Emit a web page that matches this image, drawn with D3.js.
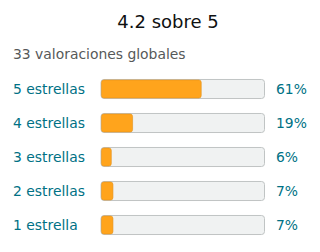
<!DOCTYPE html>
<html>
<head>
<meta charset="utf-8">
<script src="https://cdn.jsdelivr.net/npm/d3@7"></script>
<style>
  body { margin: 0; background: #fff; }
  svg { display: block; font-family: "DejaVu Sans", sans-serif; }
</style>
</head>
<body>
<svg width="320" height="252"></svg>
<script>
// rating data
var labels = ["5 estrellas", "4 estrellas", "3 estrellas", "2 estrellas", "1 estrella"];
var percents = [61, 19, 6, 7, 7];
var title = "4.2 sobre 5";
var subtitle = "33 valoraciones globales";

var svg = d3.select("svg");

var barLeft = 101, barRight = 264.5;

var x = d3.scaleLinear().domain([0, 100]).range([barLeft, barRight]);
var y = d3.scaleBand().domain(labels).range([72, 242]).paddingInner(0.44).paddingOuter(0.22);

svg.append("text")
    .attr("x", 168)
    .attr("y", 28)
    .attr("text-anchor", "middle")
    .attr("font-size", 18)
    .attr("fill", "#0f1111")
    .text(title);

svg.append("text")
    .attr("x", 13)
    .attr("y", 59)
    .attr("font-size", 13.9)
    .attr("fill", "#565959")
    .text(subtitle);

var rows = svg.selectAll("g.row")
    .data(labels)
    .enter().append("g")
    .attr("class", "row");

// background track
rows.append("rect")
    .attr("x", x(0))
    .attr("y", function(d) { return y(d); })
    .attr("width", x(100) - x(0))
    .attr("height", y.bandwidth())
    .attr("rx", 3)
    .attr("fill", "#f0f2f2")
    .attr("stroke", "#c0c4c4")
    .attr("stroke-width", 1);

// filled part
rows.append("rect")
    .attr("x", x(0) + 0.5)
    .attr("y", function(d) { return y(d) + 0.5; })
    .attr("width", function(d, i) { return x(percents[i]) - x(0); })
    .attr("height", y.bandwidth() - 1)
    .attr("rx", 2.5)
    .attr("fill", "#ffa41c")
    .attr("stroke", "#e3901a")
    .attr("stroke-width", 0.6);

rows.append("text")
    .attr("x", 13)
    .attr("y", function(d) { return y(d) + y.bandwidth() / 2; })
    .attr("dy", "0.35em")
    .attr("font-size", 13.9)
    .attr("fill", "#007185")
    .text(function(d) { return d; });

rows.append("text")
    .attr("x", 276)
    .attr("y", function(d) { return y(d) + y.bandwidth() / 2; })
    .attr("dy", "0.35em")
    .attr("font-size", 13.9)
    .attr("fill", "#007185")
    .text(function(d, i) { return percents[i] + "%"; });
</script>
</body>
</html>
